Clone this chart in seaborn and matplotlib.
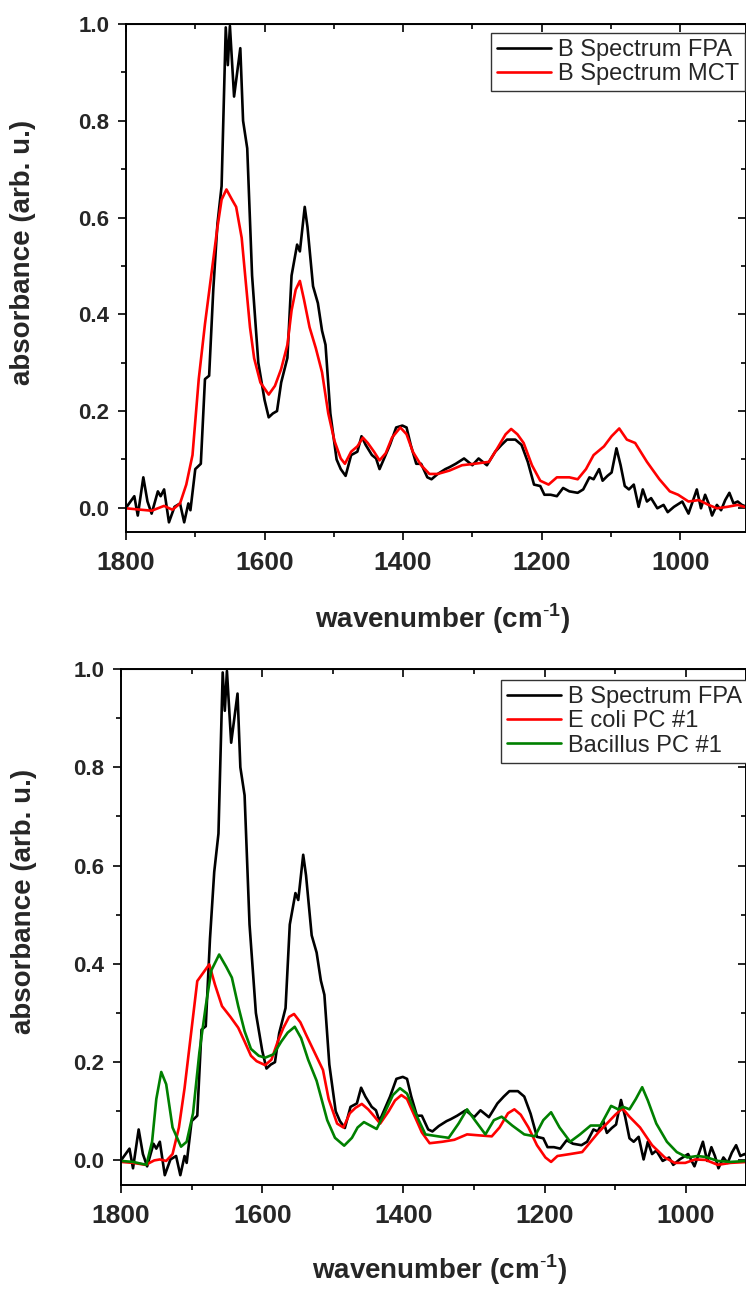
import numpy as np
import matplotlib
matplotlib.use("Agg")
import matplotlib.pyplot as plt
from matplotlib.ticker import MultipleLocator
import seaborn as sns

# B Spectrum FPA (same spectrum in both panels)
fpa_wn = [1800, 1788, 1783, 1775, 1769, 1763, 1754, 1750, 1745, 1738, 1730, 1722, 1716, 1710, 1707,
          1700, 1692, 1686, 1680, 1674, 1668, 1662, 1656, 1653, 1650, 1644, 1635, 1631, 1625, 1618,
          1609, 1600, 1594, 1588, 1582, 1576, 1567, 1561, 1553, 1549, 1542, 1538, 1530, 1523, 1517,
          1512, 1505, 1496, 1490, 1483, 1475, 1466, 1460, 1454, 1445, 1439, 1434, 1428, 1419, 1410,
          1401, 1395, 1389, 1381, 1374, 1365, 1359, 1350, 1339, 1333, 1324, 1312, 1300, 1291, 1279,
          1267, 1258, 1250, 1238, 1229, 1220, 1211, 1202, 1196, 1187, 1178, 1169, 1160, 1148, 1140,
          1131, 1125, 1117, 1112, 1105, 1099, 1092, 1086, 1080, 1074, 1067, 1060, 1054, 1048, 1042,
          1033, 1024, 1018, 1009, 997, 988, 982, 976, 970, 964, 959, 954, 947, 941, 935,
          929, 923, 917, 911, 900]
fpa_abs = [0.0, 0.024, -0.016, 0.063, 0.013, -0.012, 0.034, 0.024, 0.038, -0.03, 0.002, 0.009, -0.03, 0.009, -0.005,
           0.08, 0.091, 0.266, 0.273, 0.451, 0.587, 0.665, 0.993, 0.915, 0.996, 0.85, 0.95, 0.80, 0.743, 0.48,
           0.30, 0.223, 0.187, 0.195, 0.20, 0.259, 0.31, 0.48, 0.544, 0.53, 0.622, 0.58, 0.458, 0.423, 0.366,
           0.337, 0.195, 0.10, 0.08, 0.066, 0.109, 0.116, 0.148, 0.13, 0.109, 0.102, 0.08, 0.10, 0.13, 0.166,
           0.17, 0.166, 0.13, 0.091, 0.091, 0.063, 0.059, 0.07, 0.08, 0.084, 0.091, 0.102, 0.088, 0.102, 0.088,
           0.116, 0.13, 0.141, 0.141, 0.13, 0.095, 0.048, 0.045, 0.027, 0.027, 0.024, 0.041, 0.034, 0.031, 0.038,
           0.063, 0.059, 0.08, 0.056, 0.066, 0.073, 0.123, 0.088, 0.045, 0.038, 0.048, 0.002, 0.038, 0.013, 0.02,
           -0.001, 0.006, -0.009, 0.002, 0.013, -0.012, 0.013, 0.038, -0.001, 0.027, 0.009, -0.016, 0.006, -0.005, 0.016,
           0.031, 0.009, 0.013, 0.006, 0.0]

# B Spectrum MCT (top panel)
mct_wn = [1800, 1778, 1763, 1754, 1745, 1733, 1722, 1713, 1704, 1695, 1686, 1677, 1668, 1662, 1655,
          1647, 1641, 1633, 1627, 1621, 1615, 1606, 1594, 1585, 1576, 1567, 1561, 1555, 1549, 1543,
          1535, 1526, 1517, 1508, 1499, 1490, 1484, 1475, 1466, 1458, 1451, 1442, 1434, 1425, 1416,
          1404, 1395, 1386, 1374, 1362, 1350, 1333, 1315, 1297, 1276, 1264, 1252, 1244, 1235, 1226,
          1214, 1202, 1190, 1178, 1160, 1148, 1136, 1125, 1110, 1099, 1088, 1077, 1065, 1048, 1030,
          1015, 1003, 988, 973, 959, 947, 932, 917, 900]
mct_abs = [-0.001, -0.004, -0.006, -0.001, 0.004, -0.004, 0.009, 0.048, 0.109, 0.266, 0.38, 0.48, 0.58, 0.637, 0.658,
           0.637, 0.622, 0.558, 0.465, 0.373, 0.309, 0.259, 0.234, 0.252, 0.287, 0.337, 0.408, 0.451, 0.469, 0.43,
           0.373, 0.33, 0.28, 0.195, 0.138, 0.102, 0.091, 0.116, 0.127, 0.145, 0.134, 0.116, 0.098, 0.113, 0.145,
           0.166, 0.152, 0.116, 0.088, 0.07, 0.07, 0.077, 0.088, 0.091, 0.095, 0.123, 0.152, 0.163, 0.152, 0.134,
           0.088, 0.056, 0.048, 0.063, 0.063, 0.059, 0.08, 0.109, 0.127, 0.148, 0.164, 0.141, 0.134, 0.095, 0.059,
           0.034, 0.027, 0.013, 0.016, 0.006, -0.001, 0.002, 0.006, -0.001]

# E coli PC #1 (bottom panel)
ecoli_wn = [1800, 1783, 1765, 1753, 1745, 1736, 1727, 1718, 1710, 1701, 1692, 1683, 1675, 1667, 1657,
            1645, 1634, 1625, 1616, 1608, 1596, 1587, 1578, 1570, 1562, 1555, 1546, 1538, 1526, 1514,
            1506, 1494, 1485, 1476, 1468, 1459, 1450, 1441, 1433, 1421, 1412, 1403, 1395, 1386, 1374,
            1363, 1345, 1328, 1310, 1293, 1275, 1264, 1252, 1243, 1234, 1223, 1211, 1199, 1191, 1182,
            1164, 1147, 1135, 1124, 1112, 1100, 1090, 1080, 1065, 1048, 1030, 1016, 1001, 987, 972,
            955, 937, 900]
ecoli_abs = [-0.003, -0.005, -0.009, 0.0, 0.002, -0.001, 0.013, 0.067, 0.147, 0.256, 0.365, 0.383, 0.399, 0.358, 0.314,
             0.292, 0.27, 0.242, 0.213, 0.202, 0.194, 0.205, 0.242, 0.27, 0.292, 0.298, 0.281, 0.256, 0.22, 0.184,
             0.125, 0.075, 0.067, 0.096, 0.107, 0.115, 0.104, 0.089, 0.075, 0.1, 0.122, 0.133, 0.125, 0.096, 0.057,
             0.035, 0.038, 0.042, 0.053, 0.051, 0.049, 0.067, 0.096, 0.104, 0.093, 0.067, 0.031, 0.006, -0.003, 0.009,
             0.013, 0.017, 0.038, 0.057, 0.075, 0.093, 0.106, 0.089, 0.067, 0.031, 0.006, -0.005, -0.005, 0.002, 0.001,
             -0.009, -0.005, -0.002]

# Bacillus PC #1 (bottom panel)
bac_wn = [1800, 1783, 1764, 1756, 1750, 1743, 1736, 1727, 1715, 1707, 1698, 1689, 1680, 1672, 1661,
          1651, 1643, 1634, 1625, 1616, 1605, 1596, 1584, 1573, 1564, 1554, 1545, 1535, 1523, 1508,
          1497, 1484, 1473, 1465, 1456, 1447, 1438, 1427, 1415, 1405, 1395, 1383, 1369, 1351, 1336,
          1322, 1310, 1299, 1284, 1272, 1261, 1246, 1229, 1214, 1202, 1191, 1179, 1164, 1150, 1135,
          1121, 1106, 1096, 1089, 1080, 1071, 1062, 1054, 1042, 1027, 1013, 998, 984, 972, 955,
          937, 900]
bac_abs = [-0.001, -0.003, -0.009, 0.038, 0.125, 0.18, 0.155, 0.067, 0.028, 0.038, 0.096, 0.22, 0.314, 0.387, 0.419,
           0.394, 0.372, 0.314, 0.263, 0.227, 0.213, 0.209, 0.216, 0.242, 0.26, 0.272, 0.249, 0.205, 0.162, 0.082,
           0.046, 0.03, 0.046, 0.067, 0.078, 0.071, 0.064, 0.096, 0.133, 0.147, 0.136, 0.096, 0.053, 0.049, 0.046,
           0.075, 0.104, 0.082, 0.053, 0.082, 0.089, 0.071, 0.053, 0.049, 0.082, 0.098, 0.067, 0.038, 0.053, 0.071,
           0.071, 0.111, 0.104, 0.109, 0.104, 0.125, 0.149, 0.122, 0.075, 0.038, 0.017, 0.006, 0.009, 0.007, -0.001,
           -0.003, 0.0]

sns.set_style("ticks")
plt.rcParams["font.family"] = ["Liberation Sans", "DejaVu Sans"]
plt.rcParams["mathtext.fontset"] = "custom"
plt.rcParams["mathtext.rm"] = "Liberation Sans"
plt.rcParams["mathtext.bf"] = "Liberation Sans:bold"

W, H = 746, 1289
fig = plt.figure(figsize=(W / 100, H / 100), dpi=100)
ax1 = fig.add_axes([126 / W, 1 - 532 / H, (W - 126) / W, (532 - 24) / H])
ax2 = fig.add_axes([121 / W, 1 - 1185 / H, (W - 121) / W, (1185 - 669) / H])

lw = 1.9
sns.lineplot(x=fpa_wn, y=fpa_abs, ax=ax1, color="black", lw=lw, estimator=None, label="B Spectrum FPA")
sns.lineplot(x=mct_wn, y=mct_abs, ax=ax1, color="#ff0000", lw=lw, estimator=None, label="B Spectrum MCT")

sns.lineplot(x=fpa_wn, y=fpa_abs, ax=ax2, color="black", lw=lw, estimator=None, label="B Spectrum FPA")
sns.lineplot(x=ecoli_wn, y=ecoli_abs, ax=ax2, color="#ff0000", lw=lw, estimator=None, label="E coli PC #1")
sns.lineplot(x=bac_wn, y=bac_abs, ax=ax2, color="#008000", lw=lw, estimator=None, label="Bacillus PC #1")

xlab = "wavenumber (cm$^{\\mathbf{\\text{-}1}}$)"
panels = [(ax1, 905, 33, 745, -0.137, -0.145), (ax2, 915, 680, 748, -0.130, -0.134)]
for ax, xr, leg_top, leg_right, xlab_y, ylab_x in panels:
    ax.set_xlim(1800, xr)
    ax.set_ylim(-0.05, 1.0)
    ax.xaxis.set_major_locator(MultipleLocator(200))
    ax.xaxis.set_minor_locator(MultipleLocator(100))
    ax.yaxis.set_major_locator(MultipleLocator(0.2))
    ax.yaxis.set_minor_locator(MultipleLocator(0.1))
    ax.yaxis.set_major_formatter(matplotlib.ticker.FormatStrFormatter("%.1f"))
    for s in ax.spines.values():
        s.set_linewidth(1.4)
        s.set_color("black")
    ax.tick_params(axis="x", which="major", direction="out", length=6, width=1.4, pad=8, labelsize=19)
    ax.tick_params(axis="x", which="minor", direction="out", length=3.5, width=1.4)
    ax.tick_params(axis="y", which="major", direction="out", length=6, width=1.4, pad=6, labelsize=16)
    ax.tick_params(axis="y", which="minor", direction="out", length=3.5, width=1.4)
    for lab in ax.get_xticklabels() + ax.get_yticklabels():
        lab.set_fontweight("bold")

    # mirrored ticks on top and right, pointing inward
    top = ax.secondary_xaxis("top")
    top.xaxis.set_major_locator(MultipleLocator(200))
    top.xaxis.set_minor_locator(MultipleLocator(100))
    top.tick_params(which="major", direction="in", length=6, width=1.4, labeltop=False)
    top.tick_params(which="minor", direction="in", length=3.5, width=1.4)
    right = ax.secondary_yaxis("right")
    right.yaxis.set_major_locator(MultipleLocator(0.2))
    right.yaxis.set_minor_locator(MultipleLocator(0.1))
    right.tick_params(which="major", direction="in", length=6, width=1.4, labelright=False)
    right.tick_params(which="minor", direction="in", length=3.5, width=1.4)

    ax.set_xlabel(xlab, fontsize=20, fontweight="bold")
    ax.set_ylabel("absorbance (arb. u.)", fontsize=20, fontweight="bold")
    ax.yaxis.set_label_coords(ylab_x, 0.55)
    ax.xaxis.set_label_coords(0.51, xlab_y)

    leg = ax.legend(loc="upper right", bbox_to_anchor=(leg_right / W, 1 - leg_top / H),
                    bbox_transform=fig.transFigure, borderaxespad=0, fancybox=False,
                    framealpha=1, edgecolor="#333333", fontsize=17, handlelength=2.3,
                    handletextpad=0.3, labelspacing=0.1, borderpad=0.25)
    leg.get_frame().set_linewidth(1.0)

fig.savefig("out.png", dpi=100)
